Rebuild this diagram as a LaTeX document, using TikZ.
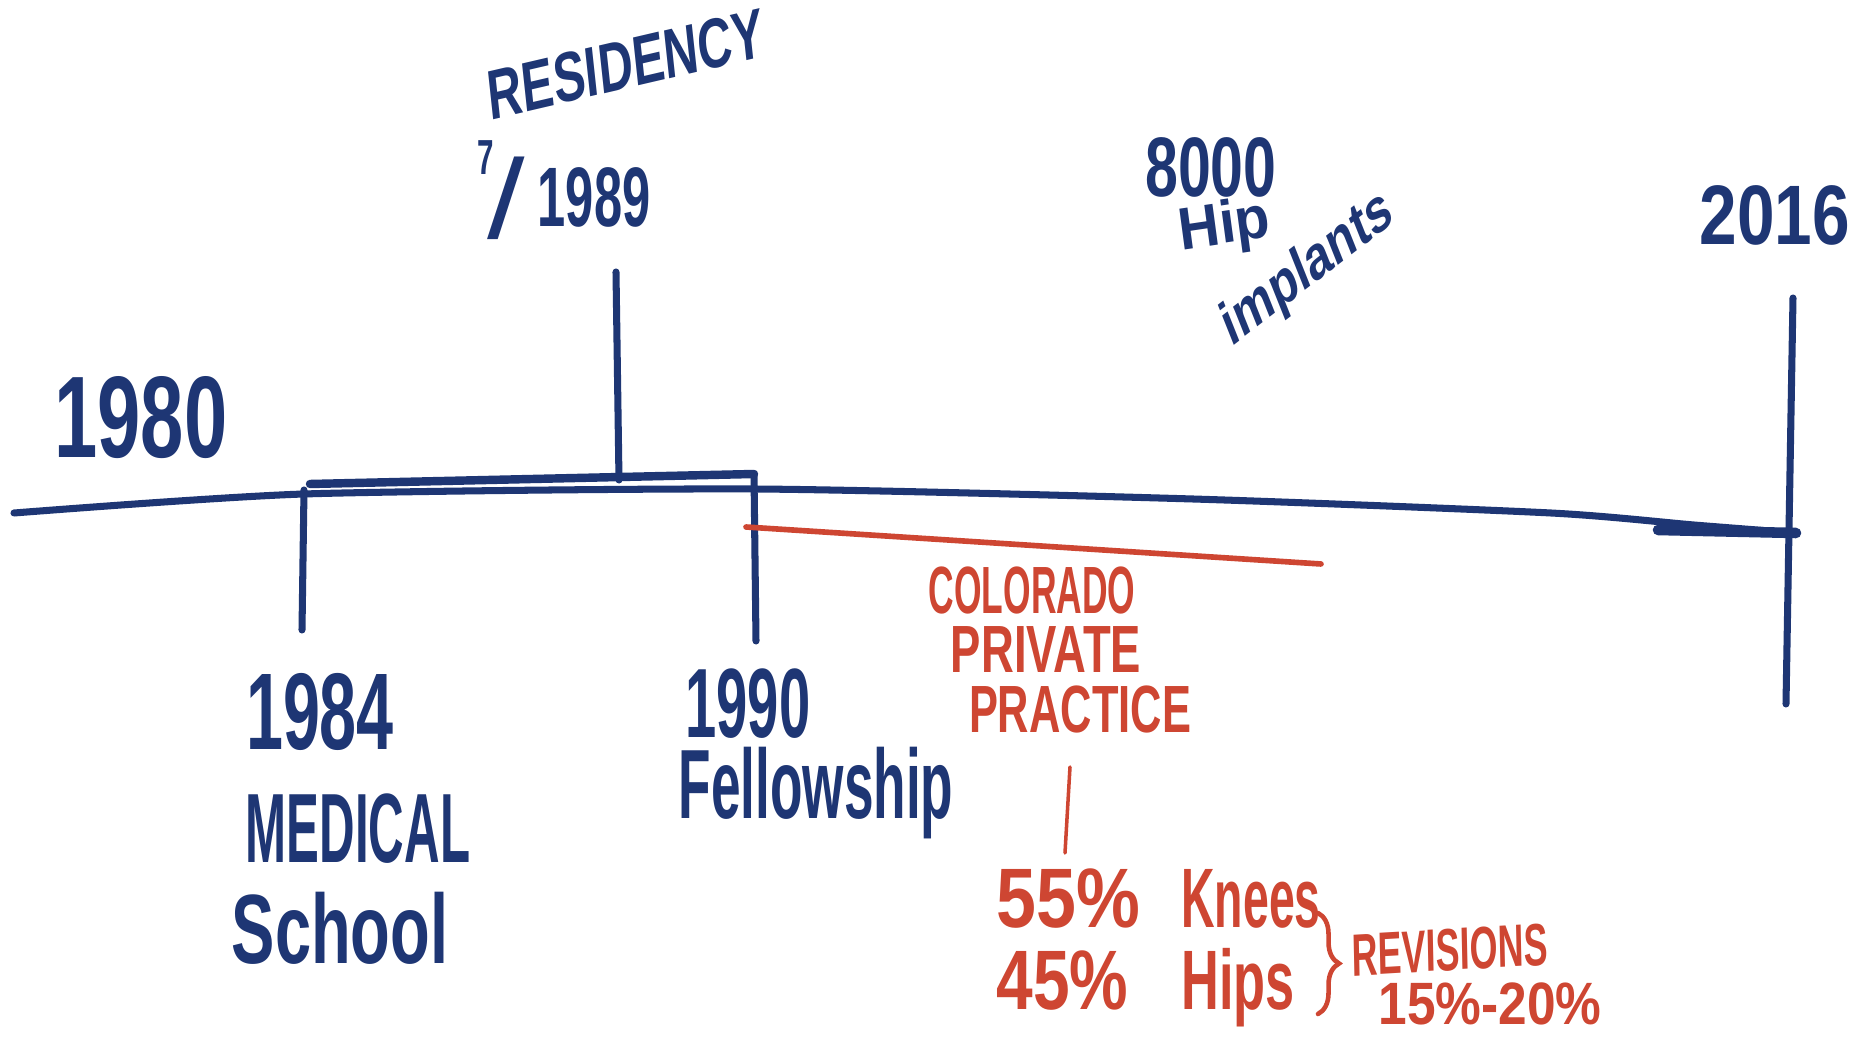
\documentclass[tikz,border=0pt]{standalone}
\usepackage{graphicx}
\usepackage{fontspec}
\setmainfont{Liberation Sans}
\usetikzlibrary{decorations.pathreplacing}
\definecolor{ink}{RGB}{30,54,116}
\definecolor{redink}{RGB}{206,70,50}
\newcommand\hwsize[1]{\fontsize{#1}{#1}\selectfont\bfseries}
\begin{document}
\begin{tikzpicture}[x=0.01cm,y=-0.01cm,
  blueline/.style={draw=ink,line width=2pt,line cap=round,line join=round},
  redline/.style={draw=redink,line width=1.6pt,line cap=round},
  thinred/.style={draw=redink,line width=1pt,line cap=round},
  bluetxt/.style={text=ink,inner sep=0pt},
  redtxt/.style={text=redink,inner sep=0pt}]
\useasboundingbox[fill=white] (0,0) rectangle (1871,1043);

% timeline coordinates
\coordinate (L0) at (14,513);
\coordinate (A84) at (304,494);
\coordinate (A90) at (754,489);
\coordinate (M1) at (1193,499);
\coordinate (M2) at (1551,513);
\coordinate (M3) at (1694,525);
\coordinate (E) at (1796,533);
\coordinate (Eth) at (1658,530);
\coordinate (BL) at (310,484);
\coordinate (BR) at (754,474);
\coordinate (R1) at (616,272);
\coordinate (R2) at (619,480);
\coordinate (T84top) at (304,490);
\coordinate (T84bot) at (302,630);
\coordinate (T90bot) at (756,641);
\coordinate (T16top) at (1793,298);
\coordinate (T16bot) at (1786,704);
\coordinate (RL0) at (746,527);
\coordinate (RL1) at (1321,564);
\coordinate (RS0) at (1070,767);
\coordinate (RS1) at (1065,853);
\coordinate (BR0) at (1318,913);
\coordinate (BR1) at (1318,1014);

% blue lines
\draw[blueline] plot[smooth,tension=0.4] coordinates {(L0) (A84) (A90) (M1) (M2) (M3) (E)};
\draw[blueline,line width=3pt] (Eth) -- (E);
\draw[blueline,line width=2.4pt] (BL) -- (BR);
\draw[blueline] (R1) -- (R2);
\draw[blueline] (T84top) -- (T84bot);
\draw[blueline] (BR) -- (T90bot);
\draw[blueline] (T16top) -- (T16bot);

% red lines
\draw[redline] (RL0) -- (RL1);
\draw[thinred] (RS0) -- (RS1);
\draw[thinred,line width=1.3pt,decorate,decoration={brace,amplitude=6pt}] (BR0) -- (BR1);

% blue texts
\node[bluetxt,font=\hwsize{33},xscale=0.67] (y1980) at (141,418) {1980};
\node[bluetxt,font=\hwsize{20},xscale=0.68,rotate=9] (res) at (626,64) {RESIDENCY};
\node[bluetxt,anchor=base west,xscale=0.6,font=\hwsize{24}] (d1989) at (477,227)
  {\raisebox{15pt}{\hwsize{14}7}\kern-3pt\raisebox{-3.4pt}{\mdseries\fontsize{32}{32}\selectfont\scalebox{2}[1]{/}}\kern6pt 1989};
\node[bluetxt,font=\hwsize{24},xscale=0.7] (n8000) at (1211,167) {8000};
\node[bluetxt,font=\hwsize{17},xscale=0.95,rotate=8] (hip) at (1225,228) {Hip};
\node[bluetxt,font=\hwsize{18},xscale=0.72,rotate=29] (impl) at (1308,270) {implants};
\node[bluetxt,font=\hwsize{24},xscale=0.8] (y2016) at (1775,215) {2016};
\node[bluetxt,font=\hwsize{31},xscale=0.61] (y1984) at (320,712) {1984};
\node[bluetxt,font=\hwsize{28},xscale=0.5] (med) at (358,829) {MEDICAL};
\node[bluetxt,font=\hwsize{28},xscale=0.66] (school) at (340,928) {School};
\node[bluetxt,font=\hwsize{28},xscale=0.57] (y1990) at (748,704) {1990};
\node[bluetxt,font=\hwsize{28},xscale=0.54] (fellow) at (816,793) {Fellowship};

% red texts
\node[redtxt,font=\hwsize{19},xscale=0.53] (colo) at (1032,591) {COLORADO};
\node[redtxt,font=\hwsize{19},xscale=0.68] (priv) at (1046,650) {PRIVATE};
\node[redtxt,font=\hwsize{19},xscale=0.65] (prac) at (1080,710) {PRACTICE};
\node[redtxt,font=\hwsize{24},anchor=base west,xscale=0.85] (p55) at (996,928) {55\%};
\node[redtxt,font=\hwsize{24},anchor=base west,xscale=0.55] (knees) at (1181,928) {Knees};
\node[redtxt,font=\hwsize{24},anchor=base west,xscale=0.78] (p45) at (996,1010) {45\%};
\node[redtxt,font=\hwsize{24},anchor=base west,xscale=0.62] (hips) at (1181,1010) {Hips};
\node[redtxt,font=\hwsize{17},xscale=0.6,rotate=2] (rev) at (1450,950) {REVISIONS};
\node[redtxt,font=\hwsize{17},xscale=0.86] (rng) at (1490,1004) {15\%-20\%};
\end{tikzpicture}
\end{document}
